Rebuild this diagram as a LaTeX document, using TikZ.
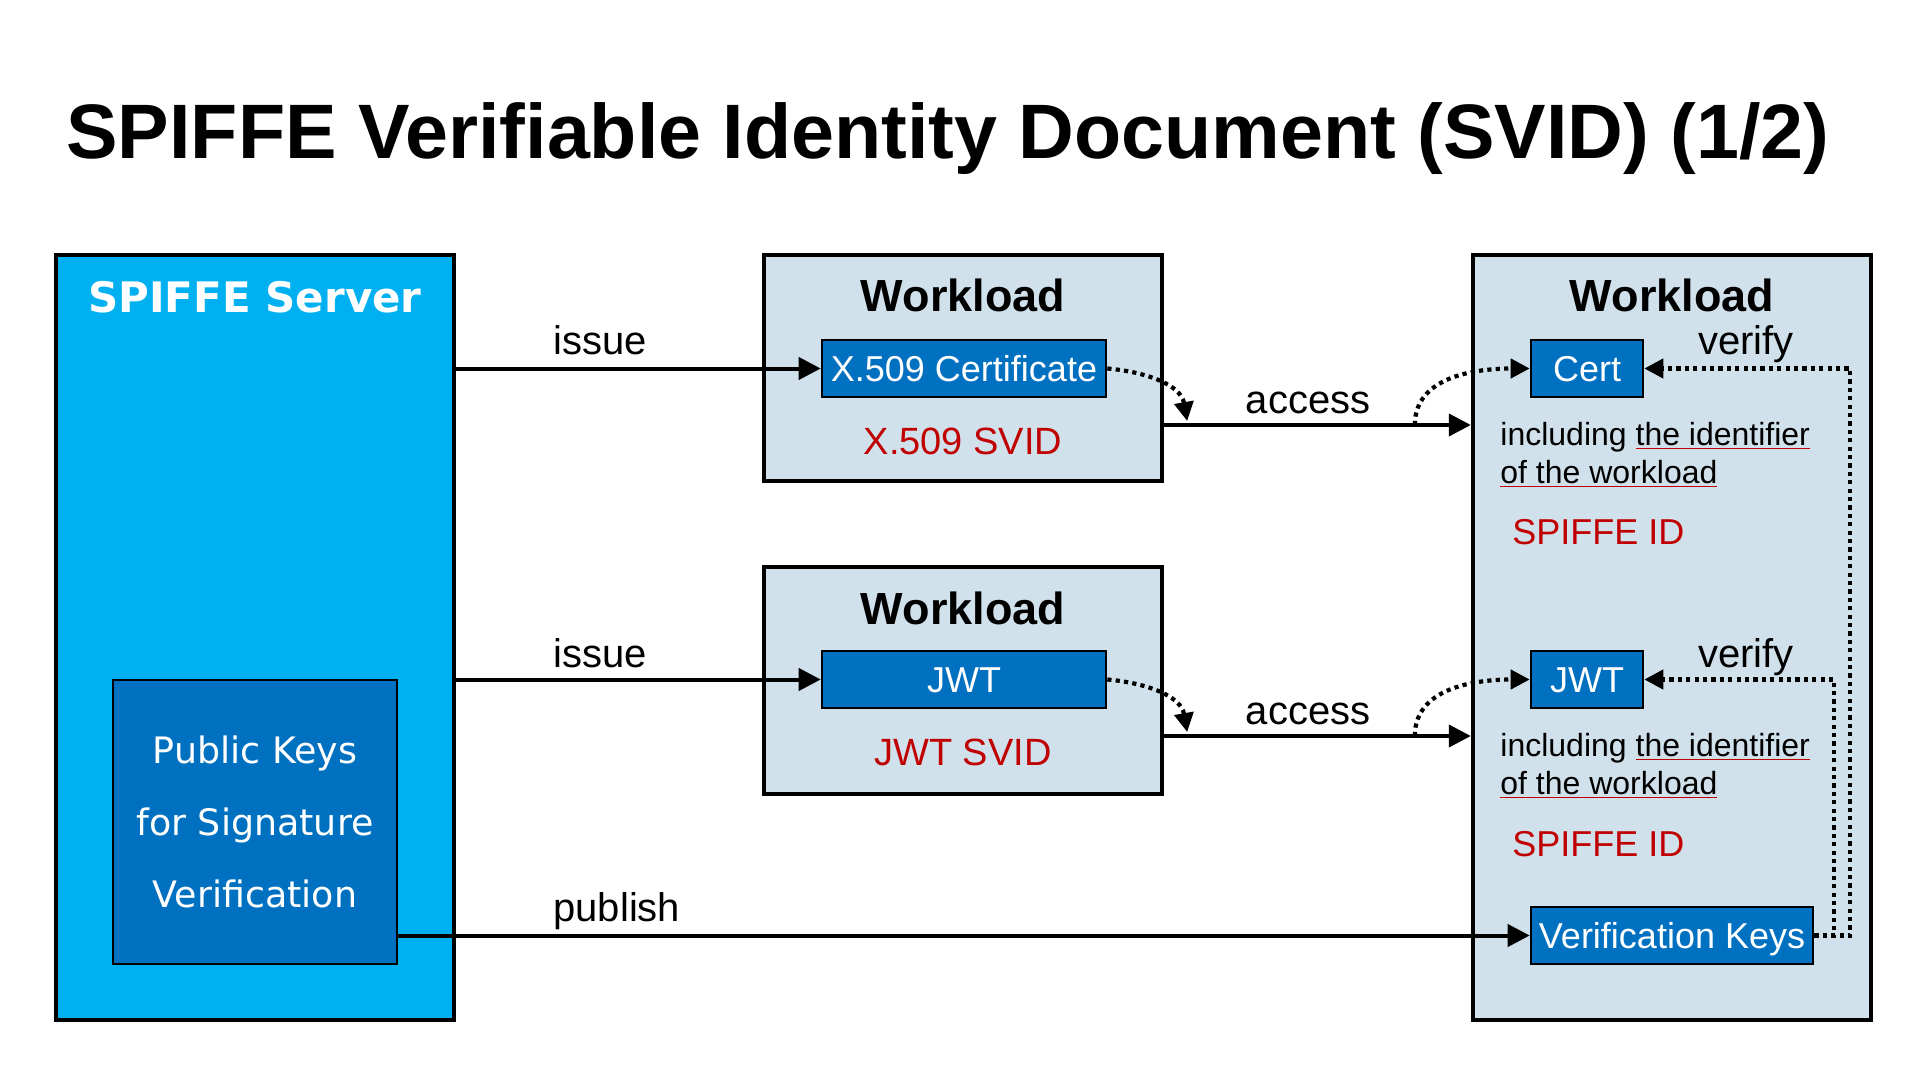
\documentclass[tikz,border=0pt]{standalone}
\usepackage{fontspec}
\setmainfont{Liberation Sans}
\newfontfamily\wideface{DejaVu Sans}
\usetikzlibrary{arrows.meta}
\usetikzlibrary{calc}
\definecolor{srvblue}{HTML}{00B0F0}
\definecolor{keyblue}{HTML}{0070C0}
\definecolor{wlgray}{HTML}{D0E1EB}
\definecolor{idred}{HTML}{C00000}
\newcommand{\redul}[1]{{\color{idred}\underline{\color{black}#1}}}
\tikzset{bigbox/.style={draw=black, line width=2.2pt, minimum width=199pt, inner sep=0pt},
srvbox/.style={bigbox, fill=srvblue, minimum height=382.5pt},
wlbox/.style={bigbox, fill=wlgray},
docbox/.style={draw=black, line width=1.3pt, fill=keyblue, text=white, font=\fontsize{18}{22}\selectfont, minimum height=28.5pt, inner sep=0pt, text height=13pt, text depth=0pt},
wltitle/.style={font=\fontsize{22.5}{26}\selectfont\bfseries, anchor=base, inner sep=0pt},
svid/.style={font=\fontsize{19}{23}\selectfont, text=idred, anchor=base, inner sep=0pt},
note/.style={font=\fontsize{16}{19}\selectfont, anchor=base west, inner sep=0pt},
idlbl/.style={font=\fontsize{18}{22}\selectfont, text=idred, anchor=base west, inner sep=0pt},
lbl/.style={font=\fontsize{20}{24}\selectfont, inner sep=0pt},
flow/.style={line width=2pt, -{Triangle[length=11pt,width=11pt]}},
dotflow/.style={line width=2.1pt, dash pattern=on 2.1pt off 2.1pt, -{Triangle[length=9.5pt,width=9.5pt]}}}

\begin{document}
\begin{tikzpicture}[x=0.5pt,y=-0.5pt]
\fill[white] (0,0) rectangle (1920,1080);
\useasboundingbox (0,0) rectangle (1920,1080);

\node[font=\fontsize{38.6}{44}\selectfont\bfseries, anchor=base] (title) at (948,159) {SPIFFE Verifiable Identity Document (SVID) (1/2)};

% server side
\node[srvbox] (server) at (255,637.5) {};
\node[font=\wideface\bfseries\fontsize{21}{25}\selectfont, text=white, anchor=base, inner sep=0pt] (srvname) at (255,313) {SPIFFE Server};
\node[draw=black, line width=1.3pt, fill=keyblue, text=white, minimum width=142pt, minimum height=142pt, align=center, font=\wideface\fontsize{18.2}{36}\selectfont] (keys) at (255,822) {Public Keys\\for Signature\\Verification};

% workloads
\node[wlbox, minimum height=113pt] (wlx) at (963,368) {};
\node[wlbox, minimum height=113.5pt] (wlj) at (963,680.5) {};
\node[wlbox, minimum height=382.5pt] (wlr) at (1672,637.5) {};
\node[wltitle] (wlxname) at (963,312) {Workload};
\node[wltitle] (wljname) at (963,624) {Workload};
\node[wltitle] (wlrname) at (1672,312) {Workload};

\node[docbox, minimum width=142pt] (x509) at (964,368.5) {X.509 Certificate};
\node[docbox, minimum width=142pt] (jwt) at (964,679.5) {JWT};
\node[svid] (x509svid) at (963,454) {X.509 SVID};
\node[svid] (jwtsvid) at (963,765) {JWT SVID};

\node[docbox, minimum width=56pt] (cert) at (1587,368.5) {Cert};
\node[docbox, minimum width=56pt] (jwtr) at (1587,679.5) {JWT};
\node[docbox, minimum width=141pt] (vkeys) at (1672,935.5) {Verification Keys};

\node[note] (inc1a) at (1500,445) {including \redul{the identifier}};
\node[note] (inc1b) at (1500,483) {\redul{of the workload}};
\node[idlbl] (id1) at (1512,544) {SPIFFE ID};
\node[note] (inc2a) at (1500,756) {including \redul{the identifier}};
\node[note] (inc2b) at (1500,794) {\redul{of the workload}};
\node[idlbl] (id2) at (1512,856) {SPIFFE ID};

% labels
\node[lbl, anchor=base west] (iss1) at (553,355) {issue};
\node[lbl, anchor=base west] (iss2) at (553,667) {issue};
\node[lbl, anchor=base west] (pub) at (553,921) {publish};
\node[lbl, anchor=base] (acc1) at (1308,413) {access};
\node[lbl, anchor=base] (acc2) at (1308,724) {access};
\node[lbl, anchor=base] (ver1) at (1746,355) {verify};
\node[lbl, anchor=base] (ver2) at (1746,667) {verify};

% connectors
\draw[flow] (x509.west -| server.east) -- (x509.west);
\draw[flow] (jwt.west -| server.east) -- (jwt.west);
\draw[flow] (vkeys.west -| keys.east) -- (vkeys.west);

\coordinate (acx) at ([yshift=-28.5pt]wlx.east);
\coordinate (acj) at ([yshift=-27.75pt]wlj.east);
\coordinate (arx) at (acx -| wlr.west);
\coordinate (arj) at (acj -| wlr.west);
\draw[flow] (acx) -- (arx);
\draw[flow] (acj) -- (arj);

\draw[dotflow] (x509.east) to[out=-5,in=100] ([xshift=11.5pt,yshift=2pt]acx);
\draw[dotflow] (jwt.east) to[out=-5,in=100] ([xshift=11.5pt,yshift=2pt]acj);
\draw[dotflow] ([xshift=-28pt]arx) to[out=90,in=180] (cert.west);
\draw[dotflow] ([xshift=-28pt]arj) to[out=90,in=180] (jwtr.west);

\draw[dotflow] (vkeys.east) -- ++(18pt,0) |- (cert.east);
\draw[dotflow] (vkeys.east) -- ++(10pt,0) |- (jwtr.east);
\end{tikzpicture}
\end{document}
